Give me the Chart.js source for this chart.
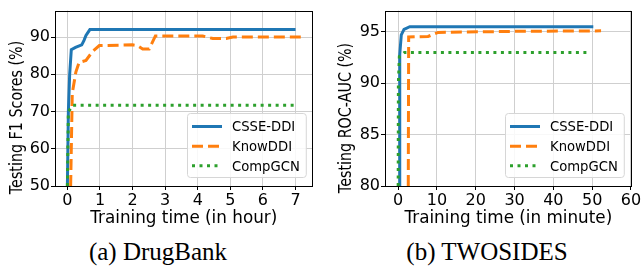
<!DOCTYPE html>
<html>
<head>
<meta charset="utf-8">
<script src="https://cdn.jsdelivr.net/npm/chart.js@4.4.0/dist/chart.umd.min.js"></script>
<style>
  body { margin: 0; background: #fff; width: 644px; height: 269px; position: relative; overflow: hidden; }
  canvas { position: absolute; top: 0; }
  .cap { position: absolute; top: 237px; width: 322px; text-align: center; font-family: 'Liberation Serif', 'Times New Roman', serif; font-size: 25px; line-height: 30px; color: #000; }
</style>
</head>
<body>
<canvas id="drugbankChart" width="322" height="229" style="left:0;width:322px;height:229px"></canvas>
<canvas id="twosidesChart" width="322" height="229" style="left:322px;width:322px;height:229px"></canvas>
<div class="cap" style="left:-3px">(a) DrugBank</div>
<div class="cap" style="left:326px">(b) TWOSIDES</div>
<script>
const seriesNames = ['CSSE-DDI', 'KnowDDI', 'CompGCN'];

// (a) DrugBank: training time in hours vs F1 (%)
const dbCsseHours = [0.0, 0.03, 0.07, 0.12, 0.25, 0.44, 0.51, 0.57, 0.69, 7.0];
const dbCsseF1 = [50, 70, 80, 86.6, 87.2, 87.9, 89.1, 90.4, 92.0, 92.0];
const dbKnowHours = [0.1, 0.15, 0.26, 0.36, 0.57, 0.77, 0.98, 2.0, 2.15, 2.31, 2.51, 2.7, 4.15, 4.46, 4.87, 5.08, 7.16];
const dbKnowF1 = [50, 74.9, 80.6, 83.2, 83.7, 86.1, 87.7, 87.9, 87.7, 86.8, 86.8, 90.3, 90.3, 89.6, 89.6, 90.0, 90.0];
const dbCompHours = [0.0, 0.03, 0.1, 0.17, 7.0];
const dbCompF1 = [50, 70, 70.8, 71.7, 71.7];
const dbXTicks = [0, 1, 2, 3, 4, 5, 6, 7];
const dbYTicks = [50, 60, 70, 80, 90];

// (b) TWOSIDES: training time in minutes vs ROC-AUC (%)
const tsCsseMin = [0.3, 0.35, 0.45, 0.8, 1.5, 3.0, 50.3];
const tsCsseAuc = [80, 88, 92.8, 94.7, 95.25, 95.5, 95.5];
const tsKnowMin = [2.6, 2.7, 7.7, 9.0, 10.3, 30, 52.3];
const tsKnowAuc = [80, 94.5, 94.55, 94.75, 94.95, 95.05, 95.1];
const tsCompMin = [0.0, 0.05, 0.3, 1.6, 49.1];
const tsCompAuc = [80, 90, 92.6, 93.0, 93.0];
const tsXTicks = [0, 10, 20, 30, 40, 50, 60];
const tsYTicks = [80, 85, 90, 95];

function toPoints(xs, ys) {
    return xs.map((x, i) => ({ x: x, y: ys[i] }));
}

// frame around the plot area, the y title (sits a bit low, like the source)
// and a matplotlib-like legend box in the lower right
const frameLegend = {
    id: 'frameLegend',
    afterDatasetsDraw(chart) {
        const { ctx, chartArea: a } = chart;
        ctx.save();
        ctx.strokeStyle = '#000';
        ctx.lineWidth = 1;
        ctx.strokeRect(Math.round(a.left) + 0.5, Math.round(a.top) + 0.5,
            Math.round(a.right) - Math.round(a.left) - 1, Math.round(a.bottom) - Math.round(a.top));
        ctx.restore();
    },
    afterDraw(chart) {
        const { ctx, chartArea: a } = chart;
        const opts = chart.options.plugins.frameLegend;

        // y axis title
        ctx.save();
        ctx.translate(opts.yTitleX, opts.yTitleY);
        ctx.rotate(-Math.PI / 2);
        ctx.scale(1, 1.18);
        ctx.font = '14.3px "DejaVu Sans"';
        ctx.fillStyle = '#000';
        ctx.textAlign = 'center';
        ctx.textBaseline = 'middle';
        ctx.fillText(opts.yTitle, 0, 0);
        ctx.restore();

        // legend
        ctx.save();
        ctx.font = '13.2px "DejaVu Sans"';
        const textW = Math.max(...chart.data.datasets.map(d => ctx.measureText(d.label).width));
        const w = 45 + textW + 6, h = 64;
        const x = Math.round(a.right - opts.insetRight - w), y = Math.round(a.bottom - 9 - h);
        ctx.beginPath();
        ctx.roundRect(x + 0.5, y + 0.5, w, h, 3);
        ctx.fillStyle = 'rgba(255,255,255,0.85)';
        ctx.fill();
        ctx.strokeStyle = '#d6d6d6';
        ctx.lineWidth = 1;
        ctx.stroke();
        const rows = [13.5, 33.3, 52.8];
        chart.data.datasets.forEach((d, i) => {
            const ry = y + rows[i];
            ctx.beginPath();
            ctx.setLineDash(d.borderDash || []);
            ctx.lineWidth = d.borderWidth;
            ctx.strokeStyle = d.borderColor;
            ctx.moveTo(x + 5, ry);
            ctx.lineTo(x + 35, ry);
            ctx.stroke();
            ctx.setLineDash([]);
            ctx.save();
            ctx.translate(x + 45, ry + 1);
            ctx.scale(1, 1.12);
            ctx.fillStyle = '#000';
            ctx.textBaseline = 'middle';
            ctx.fillText(d.label, 0, 0);
            ctx.restore();
        });
        ctx.restore();
    }
};

function makeChart(canvasId, sets, cfg) {
    const ctx = document.getElementById(canvasId).getContext('2d');
    const styles = [
        { borderColor: '#1f77b4', borderDash: [], order: 3 },
        { borderColor: '#ff7f0e', borderDash: [11, 5], order: 2 },
        { borderColor: '#2ca02c', borderDash: [3, 4.5], order: 1 }
    ];
    return new Chart(ctx, {
        type: 'line',
        data: {
            datasets: sets.map((pts, i) => ({
                label: seriesNames[i],
                data: pts,
                borderColor: styles[i].borderColor,
                borderDash: styles[i].borderDash,
                order: styles[i].order,
                borderWidth: 3,
                borderCapStyle: 'butt',
                pointRadius: 0,
                tension: 0,
                fill: false
            }))
        },
        options: {
            responsive: false,
            maintainAspectRatio: false,
            animation: false,
            devicePixelRatio: 1,
            events: [],
            layout: { padding: cfg.padding },
            plugins: {
                legend: { display: false },
                tooltip: { enabled: false },
                frameLegend: { insetRight: cfg.legendInset, yTitle: cfg.yTitle, yTitleX: cfg.yTitleX, yTitleY: cfg.yTitleY }
            },
            scales: {
                x: {
                    type: 'linear',
                    min: cfg.xMin,
                    max: cfg.xMax,
                    afterBuildTicks: (s) => { s.ticks = cfg.xTicks.map(v => ({ value: v })); },
                    afterFit: (s) => { s.height = 43; },
                    grid: { color: '#cfcfcf', lineWidth: 1, tickLength: 4, tickColor: '#000' },
                    border: { display: false },
                    ticks: { color: '#000', padding: 1, maxRotation: 0, font: { family: 'DejaVu Sans', size: 16 } },
                    title: { display: true, text: cfg.xTitle, color: '#000', padding: 0, font: { family: 'DejaVu Sans', size: 16.8 } }
                },
                y: {
                    type: 'linear',
                    min: cfg.yMin,
                    max: cfg.yMax,
                    afterBuildTicks: (s) => { s.ticks = cfg.yTicks.map(v => ({ value: v })); },
                    afterFit: (s) => { s.width = cfg.yWidth; },
                    grid: { color: '#cfcfcf', lineWidth: 1, tickLength: 4, tickColor: '#000' },
                    border: { display: false },
                    ticks: { color: '#000', padding: 1, font: { family: 'DejaVu Sans', size: 16 } },
                    title: { display: false }
                }
            }
        },
        plugins: [frameLegend]
    });
}

makeChart('drugbankChart', [
    toPoints(dbCsseHours, dbCsseF1),
    toPoints(dbKnowHours, dbKnowF1),
    toPoints(dbCompHours, dbCompF1)
], {
    xMin: -0.38, xMax: 7.52, yMin: 50, yMax: 97.1,
    xTicks: dbXTicks, yTicks: dbYTicks,
    xTitle: 'Training time (in hour)', yTitle: 'Testing F1 Scores (%)',
    yTitleX: 17.5, yTitleY: 117.5,
    padding: { left: 9, right: 9.5, top: 4.7, bottom: 0 },
    yWidth: 46, legendInset: 6.5
});

makeChart('twosidesChart', [
    toPoints(tsCsseMin, tsCsseAuc),
    toPoints(tsKnowMin, tsKnowAuc),
    toPoints(tsCompMin, tsCompAuc)
], {
    xMin: -3.4, xMax: 60.2, yMin: 80, yMax: 97.07,
    xTicks: tsXTicks, yTicks: tsYTicks,
    xTitle: 'Training time (in minute)', yTitle: 'Testing ROC-AUC (%)',
    yTitleX: 25, yTitleY: 118,
    padding: { left: 16.5, right: 12.3, top: 4.7, bottom: 0 },
    yWidth: 46.5, legendInset: 8.4
});
</script>
</body>
</html>
